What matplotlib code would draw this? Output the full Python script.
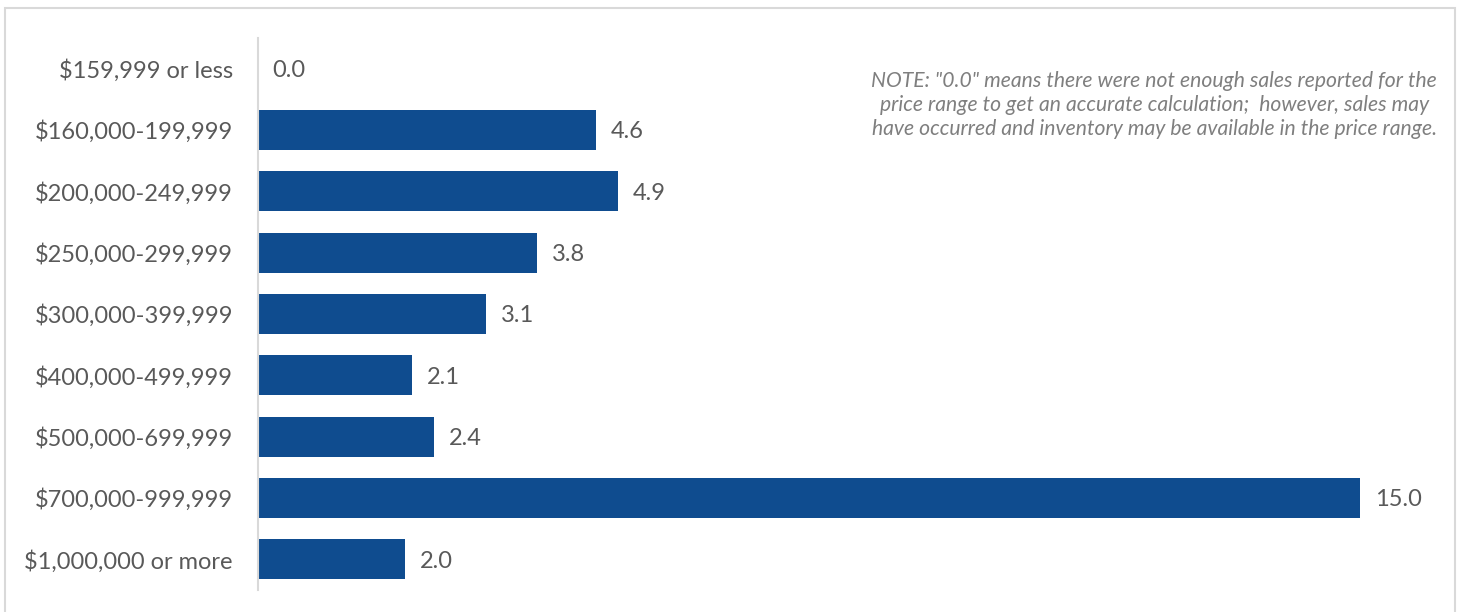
import matplotlib.pyplot as plt
from matplotlib.patches import Rectangle

plt.rcParams['font.family'] = ['Lato', 'DejaVu Sans']

price_ranges = [
    "$159,999 or less",
    "$160,000-199,999",
    "$200,000-249,999",
    "$250,000-299,999",
    "$300,000-399,999",
    "$400,000-499,999",
    "$500,000-699,999",
    "$700,000-999,999",
    "$1,000,000 or more",
]
months_supply = [0.0, 4.6, 4.9, 3.8, 3.1, 2.1, 2.4, 15.0, 2.0]

note = ('NOTE: "0.0" means there were not enough sales reported for the\n'
        'price range to get an accurate calculation;  however, sales may\n'
        'have occurred and inventory may be available in the price range.')

bar_color = "#0F4C8F"
text_color = "#595959"

fig = plt.figure(figsize=(14.59, 6.12), dpi=100)
fig.patches.append(Rectangle((5 / 1459, -0.1), 1450 / 1459, 1.1 - 8 / 612,
                             transform=fig.transFigure, fill=False,
                             edgecolor="#D9D9D9", linewidth=1.5))
ax = fig.add_axes([258 / 1459, 22 / 612, 1175.5 / 1459, 552 / 612])

y = range(len(price_ranges))
ax.barh(y, months_supply, height=0.65, color=bar_color)
ax.set_ylim(len(price_ranges) - 0.5, -0.5)
ax.set_xlim(0, 16)

for i, v in enumerate(months_supply):
    ax.text(v + 0.2, i, f"{v:.1f}", va="center_baseline", ha="left",
            fontsize=17, color=text_color)

ax.set_yticks(list(y))
ax.set_yticklabels(price_ranges, fontsize=17, color=text_color)
ax.tick_params(axis="y", length=0, pad=18)
ax.set_xticks([])
for side in ["top", "right", "bottom"]:
    ax.spines[side].set_visible(False)
ax.spines["left"].set_color("#D9D9D9")
ax.spines["left"].set_linewidth(1.5)

fig.text(1437 / 1459, 1 - 105 / 612, note, ha="right", va="center",
         multialignment="center", fontsize=15.2, style="italic",
         color="#7F7F7F", linespacing=1.22)

fig.savefig("out.png", dpi=100)
